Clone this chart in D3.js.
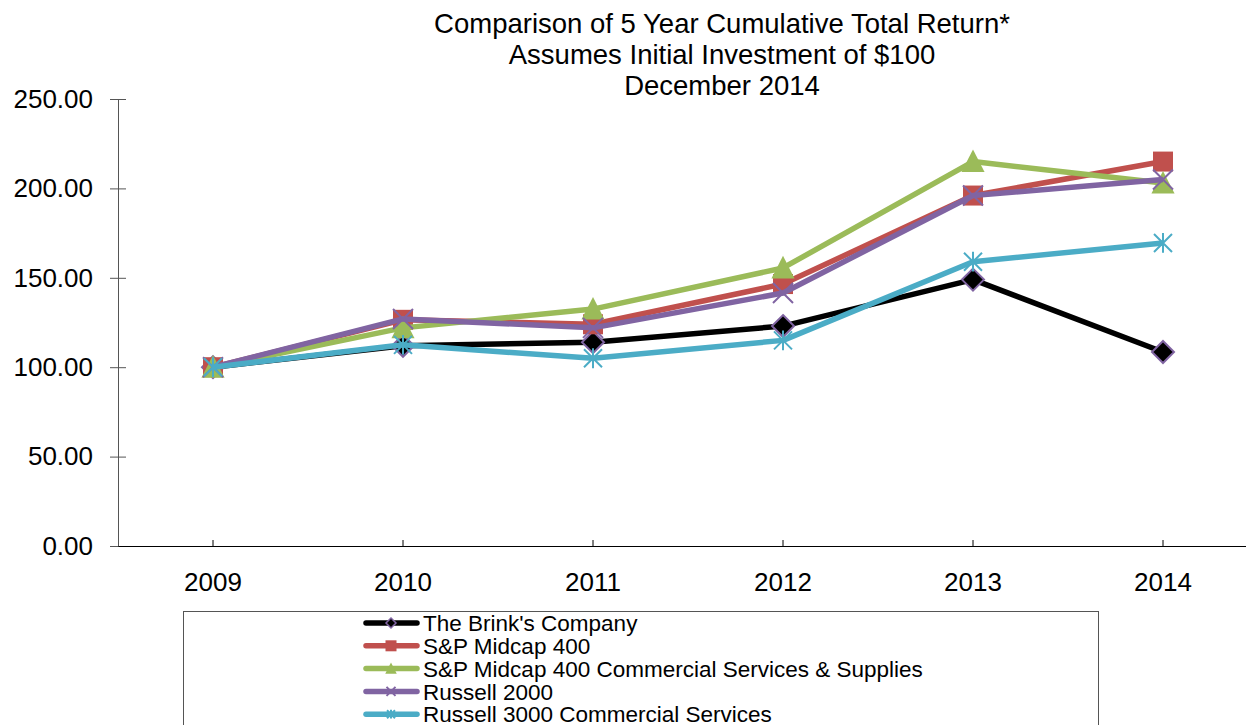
<!DOCTYPE html>
<html lang="en">
    <head>
        <meta charset="utf-8">
        <title>Comparison of 5 Year Cumulative Total Return</title>
        <script type="text/javascript" src="https://d3js.org/d3.v7.min.js"></script>
        <style type="text/css">
            body {
                margin: 0;
                background: white;
            }
            svg {
                display: block;
                font-family: "Liberation Sans", Arial, sans-serif;
            }
        </style>
    </head>
    <body>
        <svg></svg>
        <script type="text/javascript">

        // data
        const years = ["2009", "2010", "2011", "2012", "2013", "2014"];
        const brinks = [100, 112, 114, 123, 149, 108.5];
        const spMidcap = [100, 126.5, 124, 146.5, 196, 215];
        const spCommercial = [100, 122, 132.5, 155.5, 215, 203];
        const russell2000 = [100, 127, 122, 141.5, 196, 205];
        const russell3000 = [100, 112.5, 105, 115, 159, 169.5];
        const yTicks = [0, 50, 100, 150, 200, 250];
        const titleLines = ["Comparison of 5 Year Cumulative Total Return*",
                            "Assumes Initial Investment of $100",
                            "December 2014"];

        const series = [
            {name: "The Brink's Company", values: brinks, color: "#000000", marker: "diamond"},
            {name: "S&P Midcap 400", values: spMidcap, color: "#C0504D", marker: "square"},
            {name: "S&P Midcap 400 Commercial Services & Supplies", values: spCommercial, color: "#9BBB59", marker: "triangle"},
            {name: "Russell 2000", values: russell2000, color: "#8064A2", marker: "x"},
            {name: "Russell 3000 Commercial Services", values: russell3000, color: "#4BACC6", marker: "star"}
        ];

        const width = 1246;
        const height = 725;
        const plotLeft = 118, plotRight = 1258, plotTop = 99, plotBottom = 546;

        const svg = d3.select("svg")
            .attr("width", width)
            .attr("height", height);

        const xScale = d3.scaleBand()
            .domain(years)
            .range([plotLeft, plotRight])
            .padding(0);
        const xPos = d => xScale(d) + xScale.bandwidth() / 2;

        const yScale = d3.scaleLinear()
            .domain([0, 250])
            .range([plotBottom, plotTop]);

        // title
        svg.append("g")
            .selectAll("text")
            .data(titleLines)
            .join("text")
            .attr("x", 722)
            .attr("y", (d, i) => 33 + i * 31)
            .attr("text-anchor", "middle")
            .attr("font-size", "27.5px")
            .attr("fill", "#000")
            .text(d => d);

        // y axis
        const yAxis = svg.append("g")
            .attr("transform", "translate(" + plotLeft + ",0)")
            .call(d3.axisLeft(yScale)
                .tickValues(yTicks)
                .tickSizeInner(8)
                .tickSizeOuter(0)
                .tickPadding(17)
                .tickFormat(d3.format(".2f")));
        yAxis.select(".domain").attr("stroke", "#555");
        yAxis.selectAll(".tick line").attr("x2", 8).attr("x1", -8).attr("stroke", "#555");
        yAxis.selectAll(".tick text")
            .attr("font-family", "Liberation Sans, Arial, sans-serif")
            .attr("font-size", "26px")
            .attr("fill", "#000");

        // x axis
        const xAxis = svg.append("g")
            .attr("transform", "translate(0," + plotBottom + ")")
            .call(d3.axisBottom(xScale)
                .tickSizeInner(-6)
                .tickSizeOuter(0)
                .tickPadding(27));
        xAxis.select(".domain").attr("stroke", "#000");
        xAxis.selectAll(".tick line").attr("stroke", "#000");
        xAxis.selectAll(".tick text")
            .attr("font-family", "Liberation Sans, Arial, sans-serif")
            .attr("font-size", "26px")
            .attr("fill", "#000");

        // marker drawing
        function marker(g, type, color, s) {
            if (type === "diamond") {
                g.append("path")
                    .attr("d", "M0," + (-s) + "L" + s + ",0L0," + s + "L" + (-s) + ",0Z")
                    .attr("fill", "#000")
                    .attr("stroke", "#8064A2")
                    .attr("stroke-width", s > 6 ? 2 : 1.5);
            } else if (type === "square") {
                g.append("rect")
                    .attr("x", -s).attr("y", -s)
                    .attr("width", 2 * s).attr("height", 2 * s)
                    .attr("fill", color);
            } else if (type === "triangle") {
                g.append("path")
                    .attr("d", "M0," + (-s * 1.1) + "L" + (s * 1.05) + "," + (s * 0.95) + "L" + (-s * 1.05) + "," + (s * 0.95) + "Z")
                    .attr("fill", color);
            } else if (type === "x") {
                g.append("path")
                    .attr("d", "M" + (-s) + "," + (-s) + "L" + s + "," + s + "M" + s + "," + (-s) + "L" + (-s) + "," + s)
                    .attr("stroke", color)
                    .attr("stroke-width", 2)
                    .attr("fill", "none");
            } else if (type === "star") {
                g.append("path")
                    .attr("d", "M" + (-s) + "," + (-s) + "L" + s + "," + s + "M" + s + "," + (-s) + "L" + (-s) + "," + s +
                               "M0," + (-s * 1.1) + "L0," + (s * 1.1))
                    .attr("stroke", color)
                    .attr("stroke-width", 2)
                    .attr("fill", "none");
            }
        }

        const markerSize = {diamond: 11, square: 10, triangle: 11, x: 10, star: 9};

        const line = d3.line()
            .x((d, i) => xPos(years[i]))
            .y(d => yScale(d));

        series.forEach(s => {
            const g = svg.append("g");
            g.append("path")
                .datum(s.values)
                .attr("d", line)
                .attr("fill", "none")
                .attr("stroke", s.color)
                .attr("stroke-width", 5.5)
                .attr("stroke-linejoin", "round");
            s.values.forEach((v, i) => {
                const m = g.append("g")
                    .attr("transform", "translate(" + xPos(years[i]) + "," + yScale(v) + ")");
                marker(m, s.marker, s.color, markerSize[s.marker]);
            });
        });

        // legend
        const legend = svg.append("g");
        legend.append("rect")
            .attr("x", 183.5)
            .attr("y", 611.5)
            .attr("width", 915)
            .attr("height", 200)
            .attr("fill", "white")
            .attr("stroke", "#555")
            .attr("stroke-width", 1);

        const legendMarkerSize = {diamond: 5, square: 5.5, triangle: 5.5, x: 4.5, star: 4};

        series.forEach((s, i) => {
            const y = 623 + i * 22.8;
            const row = legend.append("g");
            row.append("line")
                .attr("x1", 366).attr("x2", 417)
                .attr("y1", y).attr("y2", y)
                .attr("stroke", s.color)
                .attr("stroke-width", 5.5)
                .attr("stroke-linecap", "round");
            const m = row.append("g").attr("transform", "translate(391," + y + ")");
            marker(m, s.marker, s.color, legendMarkerSize[s.marker]);
            row.append("text")
                .attr("x", 423)
                .attr("y", y)
                .attr("dy", "0.36em")
                .attr("font-size", "22.5px")
                .attr("fill", "#000")
                .text(s.name);
        });

        </script>
    </body>
</html>
